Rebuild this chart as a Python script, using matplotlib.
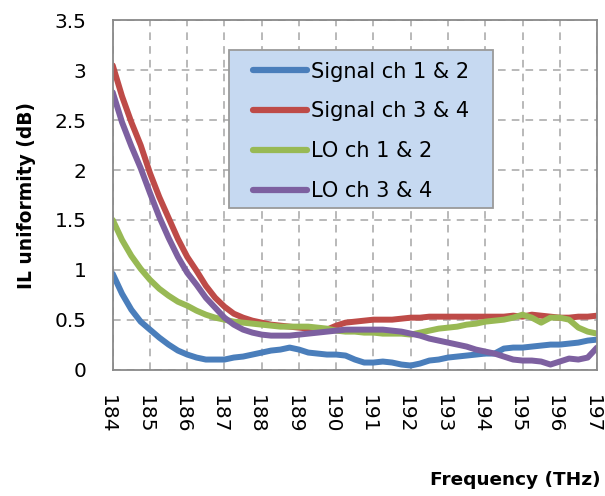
import matplotlib
matplotlib.use("Agg")
import matplotlib.pyplot as plt
import matplotlib.transforms as mtransforms
from matplotlib.patches import Rectangle

# frequency axis (THz), every 0.25 THz
freq = [184 + 0.25 * i for i in range(53)]

signal_12 = [0.96, 0.76, 0.60, 0.48, 0.40, 0.32, 0.25, 0.19, 0.15, 0.12, 0.10, 0.10, 0.10,
             0.12, 0.13, 0.15, 0.17, 0.19, 0.20, 0.22, 0.20, 0.17, 0.16, 0.15, 0.15, 0.14,
             0.10, 0.07, 0.07, 0.08, 0.07, 0.05, 0.04, 0.06, 0.09, 0.10, 0.12, 0.13, 0.14,
             0.15, 0.16, 0.16, 0.21, 0.22, 0.22, 0.23, 0.24, 0.25, 0.25, 0.26, 0.27, 0.29, 0.30]
signal_34 = [3.05, 2.74, 2.48, 2.25, 1.97, 1.73, 1.52, 1.31, 1.13, 0.99, 0.84, 0.72, 0.63,
             0.56, 0.52, 0.49, 0.47, 0.45, 0.44, 0.43, 0.42, 0.41, 0.40, 0.40, 0.44, 0.47,
             0.48, 0.49, 0.50, 0.50, 0.50, 0.51, 0.52, 0.52, 0.53, 0.53, 0.53, 0.53, 0.53,
             0.53, 0.53, 0.53, 0.53, 0.54, 0.53, 0.55, 0.54, 0.53, 0.52, 0.52, 0.53, 0.53, 0.54]
lo_12 = [1.50, 1.30, 1.14, 1.01, 0.90, 0.81, 0.74, 0.68, 0.64, 0.59, 0.55, 0.52, 0.50,
         0.48, 0.47, 0.46, 0.45, 0.44, 0.43, 0.43, 0.43, 0.43, 0.42, 0.41, 0.39, 0.38,
         0.38, 0.37, 0.37, 0.36, 0.36, 0.36, 0.35, 0.37, 0.39, 0.41, 0.42, 0.43, 0.45,
         0.46, 0.48, 0.49, 0.50, 0.52, 0.55, 0.52, 0.47, 0.52, 0.52, 0.50, 0.42, 0.38, 0.36]
lo_34 = [2.78, 2.48, 2.24, 2.02, 1.77, 1.53, 1.32, 1.13, 0.97, 0.85, 0.72, 0.62, 0.52,
         0.45, 0.40, 0.37, 0.35, 0.34, 0.34, 0.34, 0.35, 0.36, 0.37, 0.38, 0.39, 0.40,
         0.40, 0.40, 0.40, 0.40, 0.39, 0.38, 0.36, 0.34, 0.31, 0.29, 0.27, 0.25, 0.23,
         0.20, 0.18, 0.16, 0.13, 0.10, 0.09, 0.09, 0.08, 0.05, 0.08, 0.11, 0.10, 0.12, 0.22]

series = [
    ("Signal ch 1 & 2", signal_12, "#4A7EBB"),
    ("Signal ch 3 & 4", signal_34, "#BE4B48"),
    ("LO ch 1 & 2", lo_12, "#98B954"),
    ("LO ch 3 & 4", lo_34, "#7D60A0"),
]

x_ticks = list(range(184, 198))
y_ticks = [0, 0.5, 1, 1.5, 2, 2.5, 3, 3.5]
y_labels = ["0", "0.5", "1", "1.5", "2", "2.5", "3", "3.5"]

plt.rcParams["font.family"] = ["DejaVu Sans"]

fig = plt.figure(figsize=(6.05, 4.96), dpi=100)
ax = fig.add_axes([0.1863, 0.255, 0.8005, 0.7037])

for label, values, color in series:
    ax.plot(freq, values, color=color, linewidth=4.3, label=label,
            solid_capstyle="round", solid_joinstyle="round")

ax.set_xlim(184, 197)
ax.set_ylim(0, 3.5)
ax.set_xticks(x_ticks)
ax.set_xticklabels([str(t) for t in x_ticks], rotation=270, fontsize=14.5)
ax.set_yticks(y_ticks)
ax.set_yticklabels(y_labels, fontsize=14.5)
ax.tick_params(axis="both", length=0)
ax.tick_params(axis="x", pad=18)
ax.tick_params(axis="y", pad=19)
shift = mtransforms.ScaledTranslation(-5 / 100, 0, fig.dpi_scale_trans)
for tick in ax.get_xticklabels():
    tick.set_transform(tick.get_transform() + shift)

ax.grid(True, color="#A6A6A6", linestyle=(0, (5, 4)), linewidth=1.1)
ax.set_axisbelow(True)
for spine in ax.spines.values():
    spine.set_color("#898989")
    spine.set_linewidth(1.3)

ax.set_ylabel("IL uniformity (dB)", fontsize=13.4, fontweight="bold", labelpad=13)
fig.text(0.992, 0.022, "Frequency (THz)", fontsize=13.3, fontweight="bold",
         ha="right", va="baseline")

# legend box drawn separately so its padding matches the original
ax.add_patch(Rectangle((0.240, 0.4628), 0.545, 0.4527, transform=ax.transAxes,
                       facecolor="#C6D9F1", edgecolor="#9A9A9A", linewidth=1.3,
                       zorder=5))
leg = ax.legend(loc="upper left", bbox_to_anchor=(0.289, 0.882), borderaxespad=0,
                fontsize=15, frameon=False, borderpad=0,
                handlelength=2.6, handletextpad=0.2, labelspacing=0.95)
leg.set_zorder(6)
for line in leg.get_lines():
    line.set_linewidth(4.5)

fig.savefig("out.png", dpi=100)
